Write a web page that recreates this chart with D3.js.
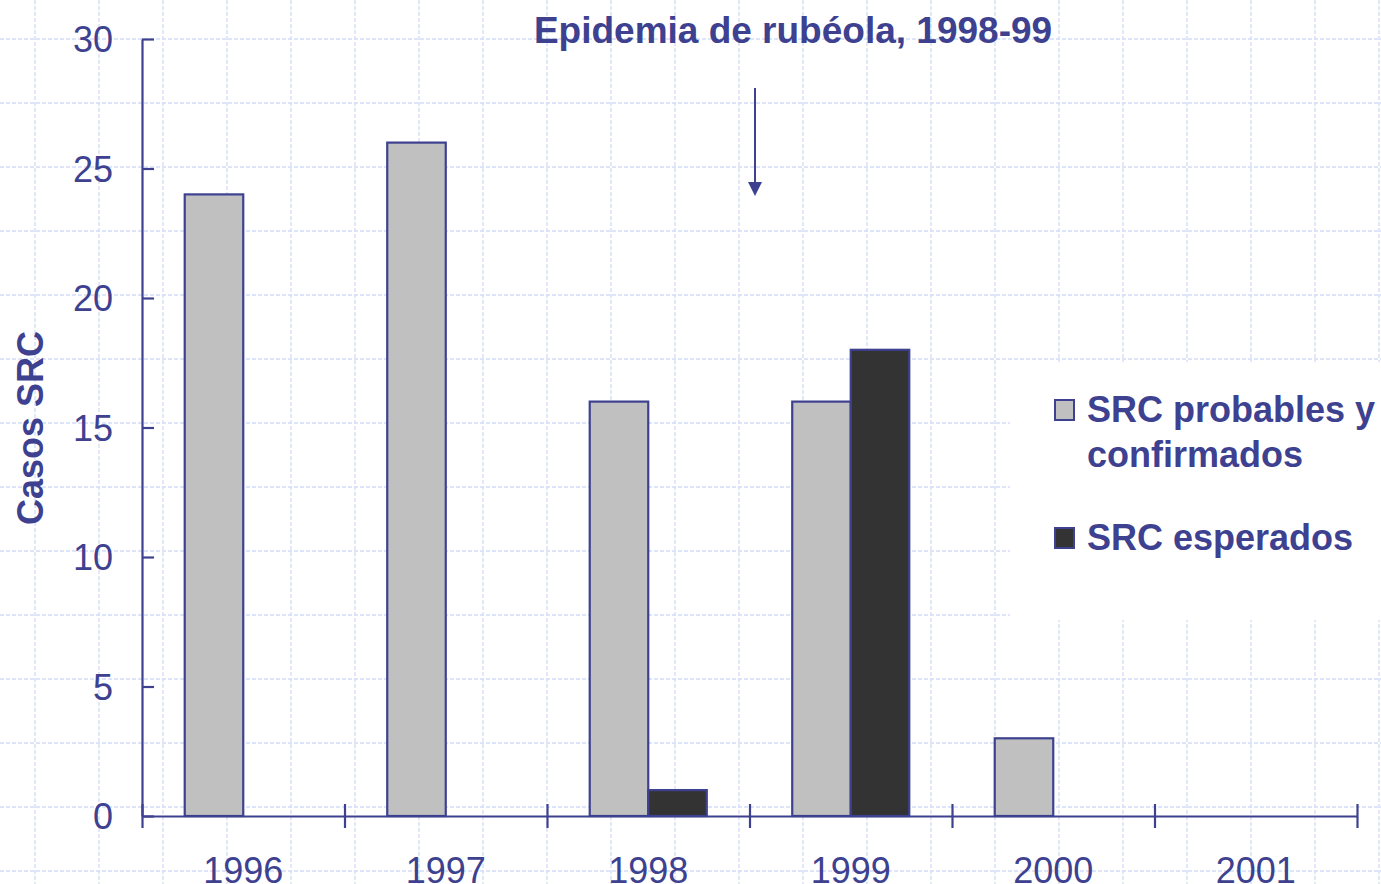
<!DOCTYPE html>
<html>
<head>
<meta charset="utf-8">
<script src="https://cdn.jsdelivr.net/npm/d3@7"></script>
<style>
  body { margin: 0; background: #fff; }
  svg { display: block; font-family: "Liberation Sans", Arial, sans-serif; }
</style>
</head>
<body>
<div id="chart"></div>
<script>
var years = ["1996", "1997", "1998", "1999", "2000", "2001"];
var seriesNames = ["SRC probables y confirmados", "SRC esperados"];
var probables = [24, 26, 16, 16, 3, 0];
var esperados = [0, 0, 1, 18, 0, 0];
var yTicks = [0, 5, 10, 15, 20, 25, 30];

var width = 1381,
    height = 884;
var ink = "#3d418f";

var svg = d3.select("#chart").append("svg")
    .attr("width", width)
    .attr("height", height);

// slide background grid
var grid = svg.append("g")
    .attr("stroke", "#d3dbf8")
    .attr("stroke-width", 1.3)
    .attr("stroke-dasharray", "4,2");
grid.selectAll("line.v")
    .data(d3.range(35, width, 64)).enter()
    .append("line")
    .attr("class", "v")
    .attr("x1", function(d) { return d; })
    .attr("x2", function(d) { return d; })
    .attr("y1", 0)
    .attr("y2", height);
grid.selectAll("line.h")
    .data(d3.range(39, height, 64)).enter()
    .append("line")
    .attr("class", "h")
    .attr("x1", 0)
    .attr("x2", width)
    .attr("y1", function(d) { return d; })
    .attr("y2", function(d) { return d; });

// legend box hides the grid
svg.append("rect")
    .attr("x", 1010).attr("y", 362)
    .attr("width", width - 1010).attr("height", 258)
    .attr("fill", "#fff");

var mLeft = 142, mRight = 1357, mTop = 39, mBottom = 816;

var x0 = d3.scaleBand()
    .domain(years)
    .range([mLeft, mRight])
    .paddingInner(0.422)
    .paddingOuter(0.211);

var x1 = d3.scaleBand()
    .domain(seriesNames)
    .range([0, x0.bandwidth()]);

var y = d3.scaleLinear()
    .domain([0, 30])
    .range([mBottom, mTop]);

var colors = d3.scaleOrdinal()
    .domain(seriesNames)
    .range(["#c0c0c0", "#333333"]);

var rows = years.map(function(yr, i) {
    return { year: yr, values: [
        { key: seriesNames[0], value: probables[i] },
        { key: seriesNames[1], value: esperados[i] }
    ]};
});

var groups = svg.append("g").selectAll("g")
    .data(rows).enter()
    .append("g")
    .attr("transform", function(d) { return "translate(" + x0(d.year) + ",0)"; });

groups.selectAll("rect")
    .data(function(d) { return d.values.filter(function(v) { return v.value > 0; }); })
    .enter().append("rect")
    .attr("x", function(d) { return x1(d.key); })
    .attr("y", function(d) { return y(d.value); })
    .attr("width", x1.bandwidth())
    .attr("height", function(d) { return y(0) - y(d.value); })
    .attr("fill", function(d) { return colors(d.key); })
    .attr("stroke", ink)
    .attr("stroke-width", 2.2);

// y axis
var yAxis = svg.append("g")
    .attr("transform", "translate(" + mLeft + ",0)")
    .call(d3.axisLeft(y).tickValues(yTicks).tickSize(12).tickSizeOuter(0).tickPadding(17));
yAxis.selectAll("line").attr("x2", 12).attr("stroke", ink).attr("stroke-width", 2.2);
yAxis.select(".domain").attr("stroke", ink).attr("stroke-width", 2.2);
yAxis.selectAll("text")
    .attr("fill", ink)
    .attr("font-size", 36)
    .attr("font-family", "Liberation Sans, Arial, sans-serif")
    .attr("dy", "0.35em");

// x axis: ticks on category boundaries
var xb = d3.scaleLinear().domain([0, years.length]).range([mLeft, mRight]);
var xAxis = svg.append("g")
    .attr("transform", "translate(0," + mBottom + ")")
    .call(d3.axisBottom(xb).tickValues(d3.range(0, years.length + 1)).tickSize(12).tickSizeOuter(0).tickFormat(""));
xAxis.selectAll("line").attr("y1", -12).attr("stroke", ink).attr("stroke-width", 2.2);
xAxis.select(".domain").attr("stroke", ink).attr("stroke-width", 2.2);

svg.append("g").selectAll("text")
    .data(years).enter()
    .append("text")
    .attr("x", function(d) { return x0(d) + x0.bandwidth() / 2; })
    .attr("y", 883)
    .attr("text-anchor", "middle")
    .attr("font-size", 36)
    .attr("fill", ink)
    .text(function(d) { return d; });

// axis title
svg.append("text")
    .attr("transform", "translate(43,428) rotate(-90)")
    .attr("text-anchor", "middle")
    .attr("font-size", 36)
    .attr("font-weight", "bold")
    .attr("fill", ink)
    .text("Casos SRC");

// annotation
svg.append("text")
    .attr("x", 793)
    .attr("y", 43)
    .attr("text-anchor", "middle")
    .attr("font-size", 37)
    .attr("font-weight", "bold")
    .attr("fill", ink)
    .text("Epidemia de rubéola, 1998-99");

svg.append("line")
    .attr("x1", 755).attr("x2", 755)
    .attr("y1", 88).attr("y2", 184)
    .attr("stroke", ink)
    .attr("stroke-width", 2);
svg.append("path")
    .attr("d", "M748,182 L762,182 L755,196 Z")
    .attr("fill", ink);

// legend
var legend = svg.append("g");
var legendRows = [
    { key: seriesNames[0], y: 400, lines: ["SRC probables y", "confirmados"] },
    { key: seriesNames[1], y: 528, lines: ["SRC esperados"] }
];
legendRows.forEach(function(r) {
    legend.append("rect")
        .attr("x", 1055).attr("y", r.y)
        .attr("width", 19).attr("height", 20)
        .attr("fill", colors(r.key))
        .attr("stroke", ink)
        .attr("stroke-width", 2);
    r.lines.forEach(function(t, j) {
        legend.append("text")
            .attr("x", 1087)
            .attr("y", r.y + 22 + j * 45)
            .attr("font-size", 36)
            .attr("font-weight", "bold")
            .attr("fill", ink)
            .text(t);
    });
});
</script>
</body>
</html>
